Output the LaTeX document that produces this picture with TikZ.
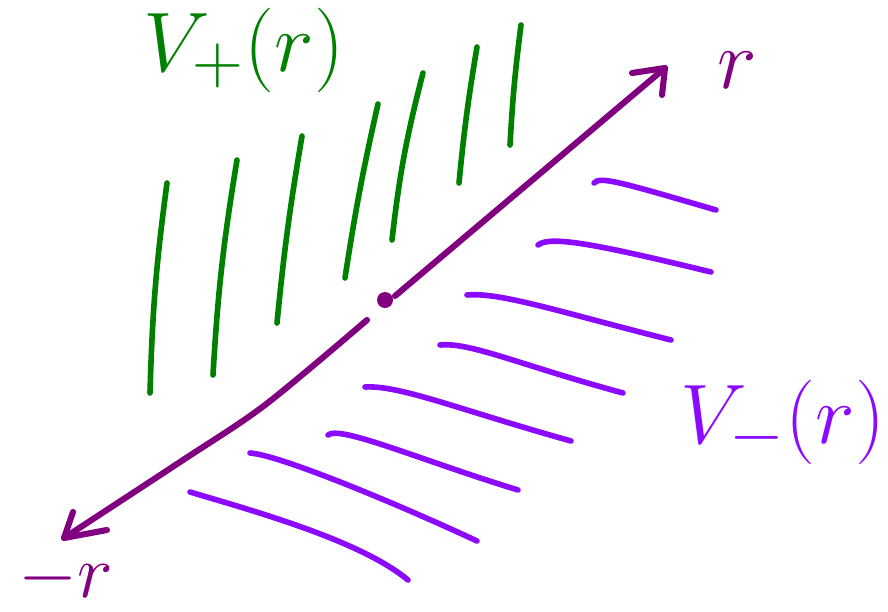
\documentclass[tikz,border=0pt]{standalone}
\usepackage{amsmath,amssymb}

\definecolor{plusgreen}{RGB}{0,128,0}
\definecolor{axispurple}{RGB}{128,0,128}
\definecolor{minusviolet}{RGB}{140,10,255}

\begin{document}
\begin{tikzpicture}[x=0.03cm,y=-0.03cm,line cap=round,line join=round,
  hatchp/.style={plusgreen,line width=4.8pt},
  hatchm/.style={minusviolet,line width=4.8pt},
  axisline/.style={axispurple,line width=5.2pt},
  bigtxt/.style={inner sep=0pt,font=\Huge,scale=2.9}]
\useasboundingbox (0,0) rectangle (888,612);
% axis through the origin
\coordinate (rneg) at (64,538);
\coordinate (rpos) at (665,68);
\coordinate (o) at (385,300);
\draw[axisline] plot[smooth] coordinates {(rneg) (180,462) (265,405) (367,320)};
\draw[axisline] (395,296) -- (rpos);
\fill[axispurple] (o) circle (8);
\draw[axisline] (632,73) -- (rpos) -- (662,95);
\draw[axisline] (73,512) -- (rneg) -- (107,530);
% V_+ side
\draw[hatchp] (167,183) to[bend right=3] (150,393);
\draw[hatchp] (237,160) to[bend right=3] (213,375);
\draw[hatchp] (302,136) to[bend right=2] (277,323);
\draw[hatchp] (378,104) to[bend right=2] (345,278);
\draw[hatchp] (423,73) to[bend right=4] (392,240);
\draw[hatchp] (477,47) to[bend right=2] (459,183);
\draw[hatchp] (521,25) to[bend right=2] (510,145);
% V_- side
\draw[hatchm] (594,183) .. controls (600,176) and (620,182) .. (716,210);
\draw[hatchm] (538,245) .. controls (550,235) and (600,245) .. (711,272);
\draw[hatchm] (467,295) .. controls (500,292) and (560,312) .. (671,340);
\draw[hatchm] (440,345) .. controls (470,342) and (520,365) .. (623,393);
\draw[hatchm] (365,387) .. controls (400,385) and (460,410) .. (571,441);
\draw[hatchm] (328,435) .. controls (340,425) and (420,460) .. (518,490);
\draw[hatchm] (250,453) .. controls (280,455) and (400,505) .. (477,541);
\draw[hatchm] (190,492) .. controls (250,510) and (360,540) .. (408,580);
% labels
\node[bigtxt,plusgreen] (vplus) at (244,50) {$V_+(r)$};
\node[bigtxt,minusviolet] (vminus) at (783,422) {$V_-(r)$};
\node[bigtxt,axispurple] (rposlbl) at (737,70) {$r$};
\node[bigtxt,axispurple,scale=0.9] (rneglbl) at (66,578) {$-r$};
\end{tikzpicture}
\end{document}
